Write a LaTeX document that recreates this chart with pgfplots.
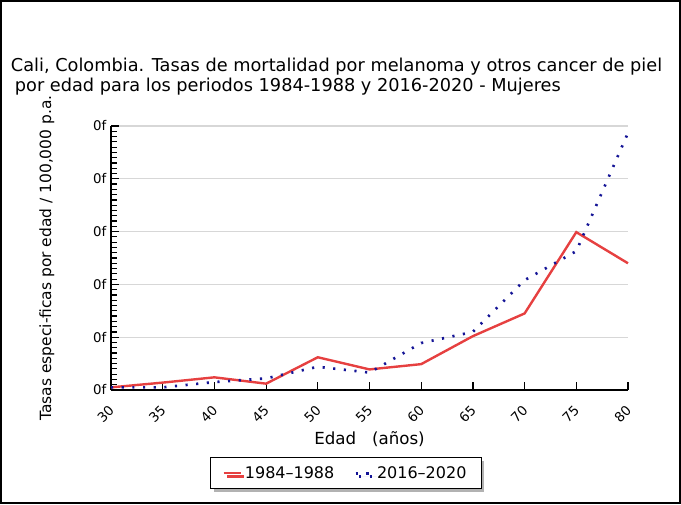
\documentclass[border=0pt]{standalone}
\usepackage{pgfplots}
\pgfplotsset{compat=1.18}
\usepackage{fontspec}
\setmainfont{DejaVu Sans}
\usetikzlibrary{shadows}
\definecolor{redline}{RGB}{230,64,64}
\definecolor{blueline}{RGB}{20,20,150}
\definecolor{gridgray}{RGB}{215,215,215}
\begin{document}
\begin{tikzpicture}
\draw[line width=1.2pt] (0.6pt,0.6pt) rectangle (510.15pt,377.4pt);
\node[anchor=north west, align=left, inner sep=0pt, font=\fontsize{13.3pt}{14.8pt}\selectfont] at (8pt,334.5pt)
 {Cali, Colombia. Tasas de mortalidad por melanoma y otros cancer de piel\\\hspace*{3pt}por edad para los periodos 1984-1988 y 2016-2020 - Mujeres};
\begin{axis}[
  at={(83.25pt,85.5pt)}, anchor=south west,
  scale only axis, width=387.75pt, height=198pt,
  xmin=30, xmax=80, ymin=0, ymax=5,
  axis lines*=left, axis line style={line width=1.4pt, -},
  xtick={30,35,...,80}, ytick={0,1,2,3,4,5},
  yticklabels={0f,0f,0f,0f,0f,0f},
  minor y tick num=9,
  tick align=inside,
  major tick length=6pt, minor tick length=4.5pt,
  tick style={black, line width=0.9pt},
  ymajorgrids, major grid style={gridgray, line width=0.8pt},
  tick label style={font=\fontsize{10pt}{12pt}\selectfont},
  xticklabel style={xshift=-2.25pt, yshift=-5.6pt, rotate=45, anchor=north east},
  /pgf/number format/assume math mode=true,
  xlabel={Edad\ \ \ (años)},
  xlabel style={font=\fontsize{12.5pt}{14pt}\selectfont, at={(axis description cs:0.5,-0.185)}, anchor=center},
  ylabel={Tasas especi-ficas por edad / 100,000 p.a.},
  ylabel style={font=\fontsize{11.6pt}{13pt}\selectfont, at={(axis description cs:-0.124,0.5)}, anchor=center},
  legend columns=2,
  legend style={at={(0.1915,-0.254)}, anchor=north west, draw=black, line width=0.8pt,
    font=\fontsize{12pt}{14pt}\selectfont, inner xsep=9pt, inner ysep=4.5pt,
    drop shadow={shadow xshift=2.5pt, shadow yshift=-2.5pt, fill=gray!60, opacity=1},
    /tikz/column 2/.style={column sep=13pt}},
  legend cell align=left,
  legend image code/.code={\draw[#1] (0pt,0pt) -- (13pt,0pt);},
  clip=false,
]
\addplot[redline, line width=1.8pt] coordinates {
 (30,0.05) (35,0.14) (40,0.24) (45,0.12) (50,0.62) (55,0.39) (60,0.49) (65,1.02) (70,1.45) (75,2.99) (80,2.4)};
\addlegendentry{1984–1988}
\addplot[blueline, line width=2pt, dash pattern=on 1.6pt off 6.4pt] coordinates {
 (30,0.05) (35,0.05) (40,0.15) (45,0.22) (50,0.44) (55,0.33) (60,0.89) (65,1.1) (70,2.08) (75,2.63) (80,4.87)};
\addlegendentry{2016–2020}
\end{axis}
\end{tikzpicture}
\end{document}
